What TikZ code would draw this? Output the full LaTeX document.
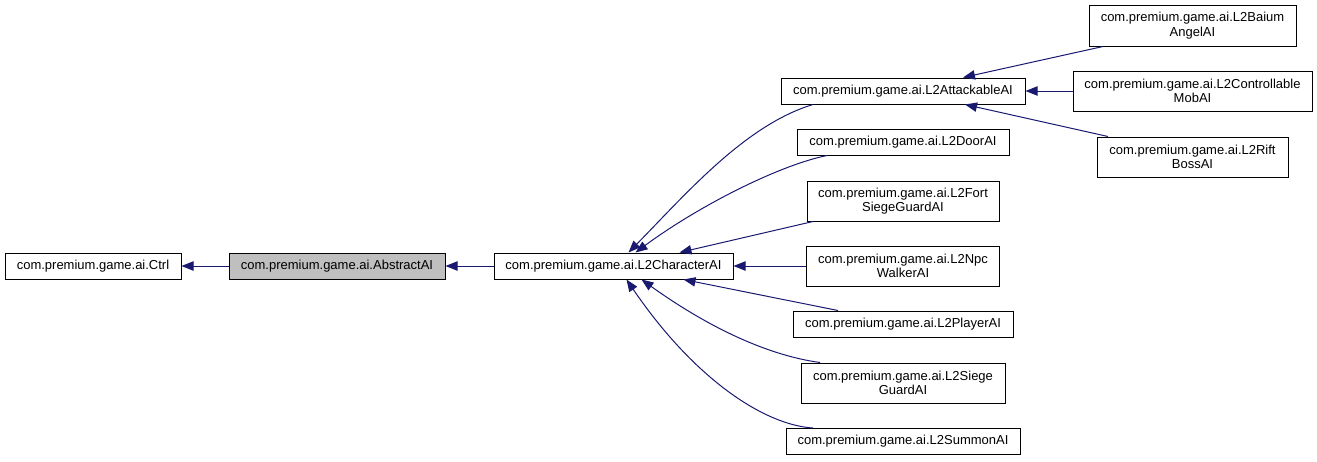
\documentclass[tikz,border=0pt]{standalone}
\usepackage{fontspec}
\setmainfont{Liberation Sans}
\usetikzlibrary{arrows.meta,calc}
\definecolor{edgeblue}{RGB}{25,25,112}
\definecolor{curgray}{RGB}{191,191,191}
\begin{document}
\begin{tikzpicture}[x=0.75pt,y=-0.75pt,
  box/.style={draw=black,line width=0.75pt,inner sep=0pt,align=center,
    font=\fontsize{9.75}{10.75}\selectfont},
  bw/.style={minimum width=#1*0.75pt},
  bh/.style={minimum height=#1*0.75pt},
  edge/.style={draw=edgeblue,line width=0.75pt,-{Triangle[length=9pt,width=7pt]}}]
\useasboundingbox (0,0) rectangle (1317,461);
% nodes
\node[box,bw=176,bh=26] (ctrl) at (93,266) {com.premium.game.ai.Ctrl};
\node[box,bw=216,bh=26,fill=curgray] (abs) at (337,266) {com.premium.game.ai.AbstractAI};
\node[box,bw=239,bh=26] (chr) at (613.5,266) {com.premium.game.ai.L2CharacterAI};
\node[box,bw=244,bh=26] (att) at (903,91) {com.premium.game.ai.L2AttackableAI};
\node[box,bw=212,bh=26] (door) at (903,142) {com.premium.game.ai.L2DoorAI};
\node[box,bw=192,bh=40] (fort) at (903,201) {com.premium.game.ai.L2Fort\\SiegeGuardAI};
\node[box,bw=193,bh=40] (npc) at (903,266) {com.premium.game.ai.L2Npc\\WalkerAI};
\node[box,bw=220,bh=26] (player) at (903,324) {com.premium.game.ai.L2PlayerAI};
\node[box,bw=204,bh=40] (siege) at (903,383) {com.premium.game.ai.L2Siege\\GuardAI};
\node[box,bw=234,bh=26] (summon) at (903,441.5) {com.premium.game.ai.L2SummonAI};
\node[box,bw=207,bh=41] (baium) at (1192.5,25.5) {com.premium.game.ai.L2Baium\\AngelAI};
\node[box,bw=239,bh=40] (mob) at (1192.5,91) {com.premium.game.ai.L2Controllable\\MobAI};
\node[box,bw=191,bh=40] (rift) at (1192.5,157) {com.premium.game.ai.L2Rift\\BossAI};
% edges
\draw[edge] (abs.west) -- (ctrl.east);
\draw[edge] (chr.west) -- (abs.east);
\draw[edge] ($(att.south)+(-90,0)$) .. controls (745,125) and (685,195) .. ($(chr.north)+(15,0)$);
\draw[edge] ($(door.south)+(-76,0)$) .. controls (780,165) and (700,205) .. ($(chr.north)+(22,0)$);
\draw[edge] ($(fort.south)+(-90,0)$) -- ($(chr.north)+(66,0)$);
\draw[edge] (npc.west) -- (npc.west -| chr.east);
\draw[edge] ($(player.north)+(-65,0)$) -- ($(chr.south)+(70,0)$);
\draw[edge] ($(siege.north)+(-83,0)$) .. controls (765,355) and (705,325) .. ($(chr.south)+(28,0)$);
\draw[edge] ($(summon.north)+(-90,0)$) .. controls (765,425) and (695,380) .. ($(chr.south)+(13,0)$);
\draw[edge] ($(baium.south)+(-89.5,0)$) -- ($(att.north)+(60,0)$);
\draw[edge] (mob.west) -- (mob.west -| att.east);
\draw[edge] ($(rift.north)+(-84.5,0)$) -- ($(att.south)+(62,0)$);
\end{tikzpicture}
\end{document}
